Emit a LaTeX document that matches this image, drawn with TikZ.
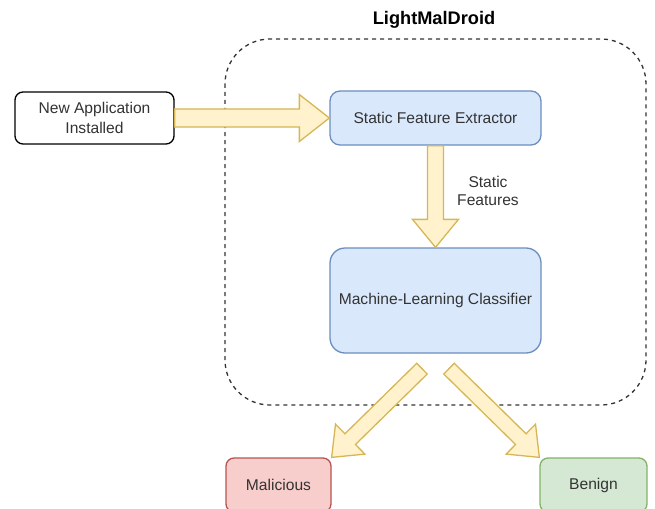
\documentclass[tikz,border=0pt]{standalone}
\usepackage{fontspec}
\setmainfont{Liberation Sans}
\usetikzlibrary{calc}
\definecolor{bfill}{HTML}{DAE8FC}\definecolor{bline}{HTML}{6C8EBF}
\definecolor{yfill}{HTML}{FFF2CC}\definecolor{yline}{HTML}{D6B656}
\definecolor{rfill}{HTML}{F8CECC}\definecolor{rline}{HTML}{B85450}
\definecolor{gfill}{HTML}{D5E8D4}\definecolor{gline}{HTML}{82B366}
\definecolor{txt}{HTML}{333333}
\tikzset{
  box/.style={draw, line width=1.3pt, inner sep=0pt, align=center, text=txt,
    font=\fontsize{15.6}{20}\selectfont},
  bluebox/.style={box, fill=bfill, draw=bline},
  fatarrow/.style={fill=yfill, draw=yline, line width=1.3pt, line join=miter},
}
% #1 start, #2 tip, #3 shaft half width, #4 head half width, #5 head length
\newcommand\fatarr[5]{%
  \coordinate (fh) at ($(#2)!#5pt!(#1)$);
  \draw[fatarrow] ($(#1)!#3pt!90:(#2)$) -- ($(fh)!#3pt!-90:(#1)$) -- ($(fh)!#4pt!-90:(#1)$)
    -- (#2) -- ($(fh)!#4pt!90:(#1)$) -- ($(fh)!#3pt!90:(#1)$) -- ($(#1)!#3pt!-90:(#2)$) -- cycle;
}
\begin{document}
\begin{tikzpicture}[x=1pt,y=-1pt]
\useasboundingbox (0,0) rectangle (655,508);
% container
\draw[line width=1.3pt, draw=txt, dash pattern=on 4pt off 4pt, rounded corners=45pt]
  (225,39) rectangle (646,405);
\node[font=\bfseries\fontsize{18.2}{22}\selectfont, text=black] (title) at (434,20) {LightMalDroid};
% nodes
\node[box, fill=white, draw=black, rounded corners=8pt, minimum width=159pt, minimum height=52pt]
  (newapp) at (94.5,118) {New Application\\Installed};
\node[bluebox, rounded corners=10pt, minimum width=211pt, minimum height=54pt]
  (sfe) at (435.5,118) {Static Feature Extractor};
\node[bluebox, rounded corners=15pt, minimum width=211pt, minimum height=105pt]
  (mlc) at (435.5,300.5) {Machine-Learning Classifier};
\node[box, fill=rfill, draw=rline, rounded corners=8pt, minimum width=105pt, minimum height=54pt]
  (mal) at (278.5,485) {Malicious};
\node[box, fill=gfill, draw=gline, rounded corners=8pt, minimum width=107pt, minimum height=54pt]
  (ben) at (593.5,485) {Benign};
\node[align=center, text=txt, font=\fontsize{15.6}{18}\selectfont] (lab) at (488,190.5) {Static\\Features};
% arrows
\fatarr{newapp.east}{sfe.west}{9}{23.5}{30}
\fatarr{sfe.south}{mlc.north}{8}{23}{28}
\coordinate (c1) at ($(mlc.south)+(-13.5,15)$);
\coordinate (c2) at ($(mlc.south)+(13.5,15)$);
\fatarr{c1}{mal.north east}{7.5}{21}{26}
\fatarr{c2}{ben.north west}{7.5}{21}{26}
\end{tikzpicture}
\end{document}
